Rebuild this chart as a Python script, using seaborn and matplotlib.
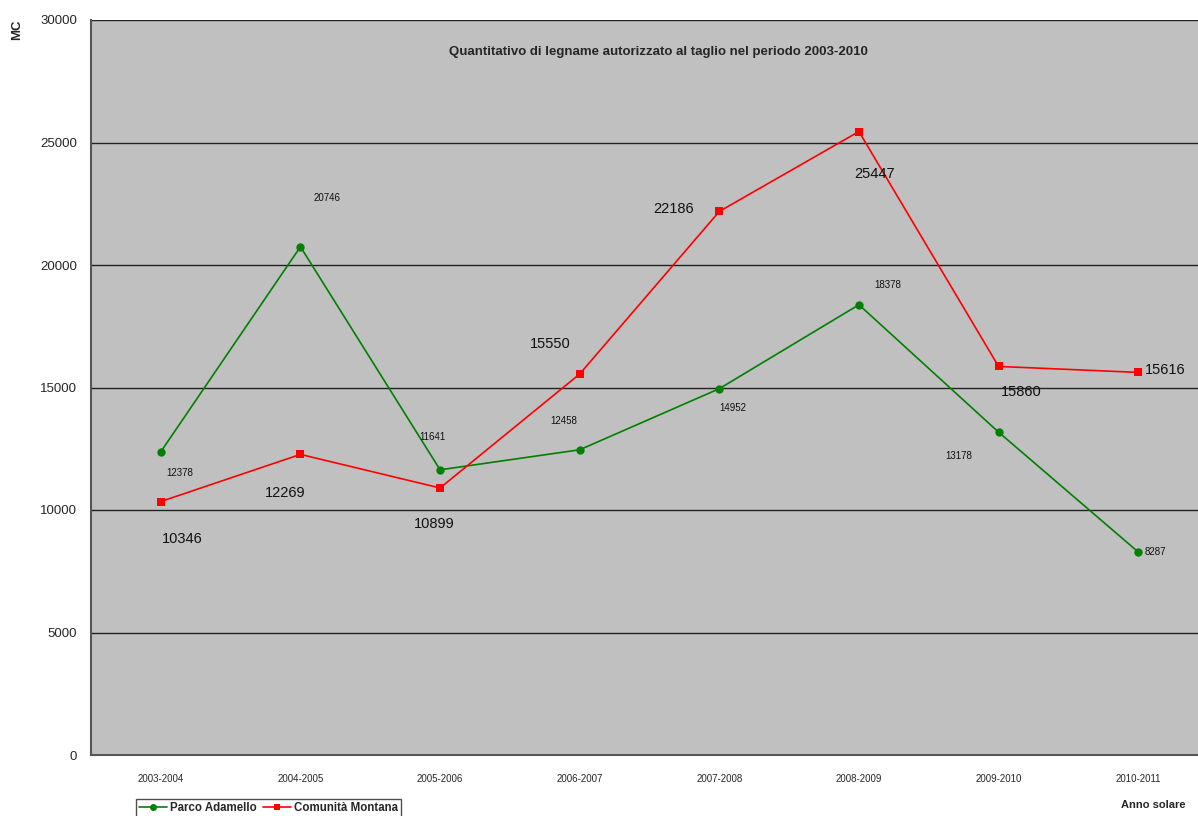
import matplotlib
matplotlib.use("Agg")
import matplotlib.pyplot as plt
import seaborn as sns
import pandas as pd
from matplotlib import font_manager

# Data
seasons = ["2003-2004", "2004-2005", "2005-2006", "2006-2007",
           "2007-2008", "2008-2009", "2009-2010", "2010-2011"]
parco_adamello = [12378, 20746, 11641, 12458, 14952, 18378, 13178, 8287]
comunita_montana = [10346, 12269, 10899, 15550, 22186, 25447, 15860, 15616]
series_names = ["Parco Adamello", "Comunità Montana"]
y_ticks = [0, 5000, 10000, 15000, 20000, 25000, 30000]

# Label offsets (pixels) for each data label
green_offsets = [(19, -21), (27, 49), (-8, 33), (-16, 29), (13, -19), (29, 20), (-40, -24), (17, 0)]
red_offsets = [(21, -37), (-15, -39), (-6, -36), (-29, 30), (-46, 2), (16, -42), (23, -26), (27, 2)]

sns.set_theme(style="white")
available = {f.name for f in font_manager.fontManager.ttflist}
family = "Liberation Sans Narrow" if "Liberation Sans Narrow" in available else "Liberation Sans"
plt.rcParams["font.family"] = [family, "DejaVu Sans"]

df = pd.DataFrame({
    "season": seasons * 2,
    "value": parco_adamello + comunita_montana,
    "series": [series_names[0]] * len(seasons) + [series_names[1]] * len(seasons),
})

fig = plt.figure(figsize=(11.98, 8.16), dpi=100)
ax = fig.add_axes([91 / 1198, 61 / 816, 1117 / 1198, 735 / 816])
ax.set_facecolor("#C0C0C0")

palette = {series_names[0]: "#008000", series_names[1]: "#FF0000"}
markers = {series_names[0]: "o", series_names[1]: "s"}
sns.lineplot(data=df, x="season", y="value", hue="series", style="series",
             palette=palette, markers=markers, dashes=False, sort=False,
             linewidth=1.2, markersize=6, markeredgewidth=0, ax=ax, legend=True)

ax.set_xlim(-0.5, len(seasons) - 0.5)
ax.set_ylim(0, 30000)
ax.set_yticks(y_ticks)
ax.set_yticklabels([str(v) for v in y_ticks], fontsize=9.5)
ax.set_xticks(range(len(seasons)))
ax.set_xticklabels(seasons, fontsize=7)
ax.tick_params(axis="x", length=0, pad=14)
ax.tick_params(axis="y", length=5, width=1, color="#555555", direction="out", pad=5)
# category separators on the x axis
ax.set_xticks([i + 0.5 for i in range(len(seasons) - 1)], minor=True)
ax.tick_params(axis="x", which="minor", length=5, width=1, color="#555555", direction="out")

for v in y_ticks[1:]:
    ax.axhline(v, color="#222222", linewidth=1, zorder=1)
for s in ["top", "right"]:
    ax.spines[s].set_visible(False)
for s in ["left", "bottom"]:
    ax.spines[s].set_color("#555555")
    ax.spines[s].set_linewidth(1.5)

ax.set_xlabel("")
ax.set_ylabel("")

for i, (v, off) in enumerate(zip(parco_adamello, green_offsets)):
    ax.annotate(str(v), (i, v), xytext=off, textcoords="offset pixels",
                ha="center", va="center", fontsize=7, color="#111111")
for i, (v, off) in enumerate(zip(comunita_montana, red_offsets)):
    ax.annotate(str(v), (i, v), xytext=off, textcoords="offset pixels",
                ha="center", va="center", fontsize=10.5, color="#111111")

ax.text(0.508, 0.957, "Quantitativo di legname autorizzato al taglio nel periodo 2003-2010",
        transform=ax.transAxes, ha="center", va="center", fontsize=9.5, fontweight="bold")

fig.text(17 / 1198, 1 - 30 / 816, "MC", rotation=90, ha="center", va="center",
         fontsize=9.5, fontweight="bold")
fig.text(1153 / 1198, 1 - 805 / 816, "Anno solare", ha="center", va="center",
         fontsize=8, fontweight="bold")

handles, labels = ax.get_legend_handles_labels()
leg = ax.legend(handles, labels, loc="center left", ncol=2, frameon=True,
                bbox_to_anchor=(130 / 1198, 1 - 808 / 816), bbox_transform=fig.transFigure,
                prop={"weight": "bold", "size": 8.3}, fancybox=False, borderpad=0.3,
                handlelength=2.4, handletextpad=0.3, columnspacing=0.5)
leg.get_frame().set_edgecolor("#222222")
leg.get_frame().set_linewidth(1)
for h in leg.legend_handles:
    h.set_markersize(5)

fig.savefig("out.png", dpi=100)
